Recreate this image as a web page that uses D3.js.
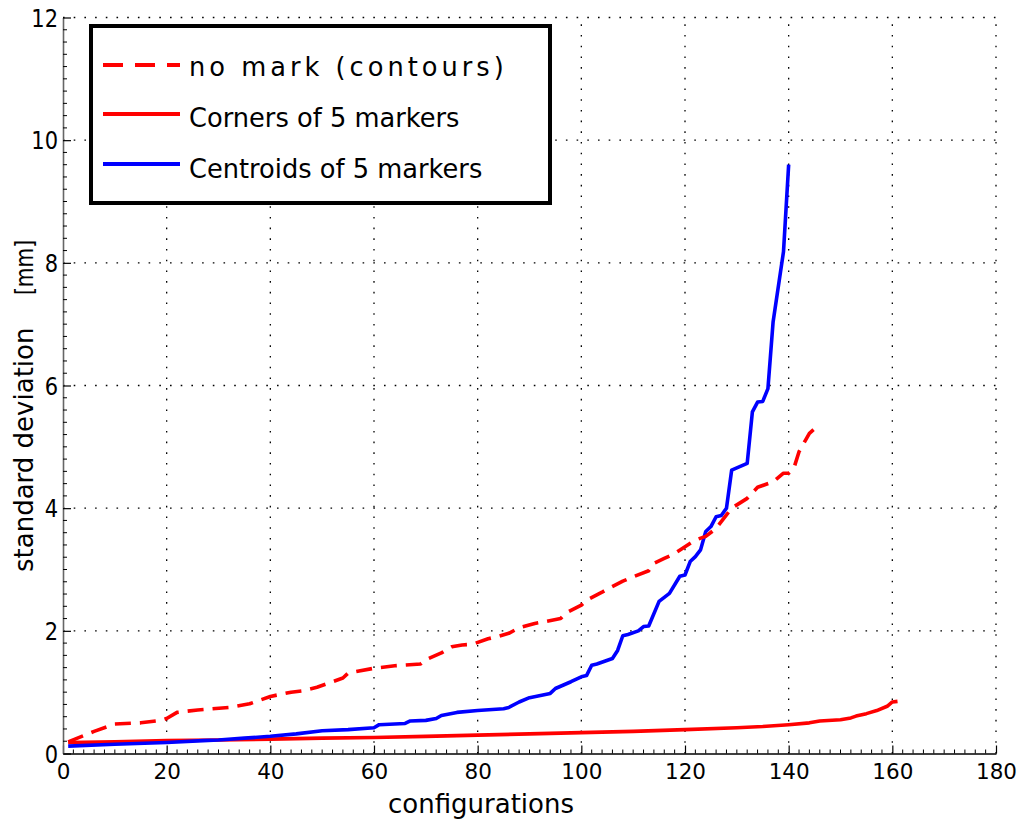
<!DOCTYPE html>
<html>
<head>
<meta charset="utf-8">
<script src="https://cdn.jsdelivr.net/npm/d3@7"></script>
<style>
  html, body { margin: 0; padding: 0; background: #fff; }
  svg { display: block; font-family: "DejaVu Sans", sans-serif; }
</style>
</head>
<body>
<svg id="chart" width="1019" height="825"></svg>
<script>
// Series: standard deviation [mm] per configuration
const contoursX = [1, 6, 10, 15, 19, 20, 22, 26, 32, 36, 40, 44, 46, 49, 54, 55, 60, 64, 69, 70,
  73, 75, 77, 79, 82, 84, 86, 88, 91, 93, 96, 97, 100, 101, 104, 105, 108, 110, 113, 114,
  116, 118, 120, 122, 124, 126, 128, 129, 132, 134, 137, 139, 140, 141, 142, 144, 146];
const contoursY = [0.19, 0.36, 0.48, 0.50, 0.54, 0.57, 0.67, 0.71, 0.75, 0.81, 0.93, 1.0, 1.02, 1.08, 1.23, 1.31, 1.39, 1.43, 1.46, 1.53,
  1.64, 1.74, 1.77, 1.78, 1.87, 1.91, 1.96, 2.05, 2.12, 2.15, 2.2, 2.29, 2.42, 2.5, 2.63, 2.68, 2.81, 2.88, 2.98, 3.1,
  3.18, 3.26, 3.37, 3.48, 3.54, 3.67, 3.89, 4.0, 4.16, 4.34, 4.43, 4.57, 4.57, 4.65, 4.92, 5.22, 5.37];

const cornersX = [1, 10, 20, 30, 40, 50, 60, 70, 80, 90, 100, 110, 120, 130, 135, 140, 144, 146, 150, 152, 153, 155, 157, 159, 160, 161];
const cornersY = [0.18, 0.19, 0.21, 0.22, 0.235, 0.25, 0.26, 0.28, 0.30, 0.32, 0.34, 0.36, 0.39, 0.42, 0.44, 0.47, 0.50, 0.53, 0.55, 0.58, 0.61, 0.65, 0.70, 0.77, 0.84, 0.85];

const centroidsX = [1, 10, 20, 27, 30, 35, 40, 45, 50, 55, 60, 61, 66, 67, 70, 72, 73, 76, 80, 85,
  86, 88, 90, 94, 95, 98, 100, 101, 102, 103, 106, 107, 108, 109, 111, 112, 113, 115, 117, 119,
  120, 121, 122, 123, 124, 125, 126, 127, 128, 129, 132, 133, 134, 135, 136, 137, 139, 140];
const centroidsY = [0.12, 0.15, 0.18, 0.21, 0.22, 0.25, 0.28, 0.32, 0.37, 0.39, 0.42, 0.47, 0.49, 0.53, 0.54, 0.57, 0.62, 0.67, 0.70, 0.73,
  0.75, 0.84, 0.91, 0.98, 1.06, 1.17, 1.25, 1.27, 1.44, 1.46, 1.55, 1.68, 1.92, 1.94, 2.0, 2.07, 2.08, 2.48, 2.61, 2.89,
  2.91, 3.13, 3.21, 3.32, 3.62, 3.70, 3.86, 3.88, 4.0, 4.62, 4.73, 5.57, 5.73, 5.74, 5.95, 7.04, 8.18, 9.6];

const xTicks = [0, 20, 40, 60, 80, 100, 120, 140, 160, 180];
const yTicks = [0, 2, 4, 6, 8, 10, 12];
const legendLabels = ["no mark (contours)", "Corners of 5 markers", "Centroids of 5 markers"];

const svg = d3.select("#chart");
const plot = { left: 63, right: 996, top: 17.5, bottom: 753.5 };

const x = d3.scaleLinear().domain([0, 180]).range([plot.left, plot.right]);
const y = d3.scaleLinear().domain([0, 12]).range([plot.bottom, plot.top]);

// Dotted grid at major ticks
const grid = svg.append("g").attr("stroke", "#000").attr("stroke-width", 1.3)
  .attr("stroke-dasharray", "1.6,9.1");
grid.selectAll(".gx").data(xTicks.filter(d => d > 0)).join("line")
  .attr("x1", d => x(d)).attr("x2", d => x(d))
  .attr("y1", plot.bottom).attr("y2", plot.top);
grid.selectAll(".gy").data(yTicks.filter(d => d > 0)).join("line")
  .attr("x1", plot.left).attr("x2", plot.right)
  .attr("y1", d => y(d)).attr("y2", d => y(d));

// Bottom axis: inward ticks, major and minor
const xAxis = d3.axisBottom(x).tickValues(xTicks).tickSizeInner(-8).tickSizeOuter(0).tickPadding(10);
const gx = svg.append("g").attr("transform", `translate(0,${plot.bottom})`).call(xAxis);
gx.select(".domain").attr("stroke", "#000").attr("stroke-width", 1.6);
gx.selectAll(".tick line").attr("stroke", "#000").attr("stroke-width", 1.2);
gx.selectAll(".tick text").attr("font-size", 21.5).attr("font-family", "DejaVu Sans").attr("fill", "#000");
const xMinor = d3.range(0, 181, 2).filter(v => v % 20 !== 0);
gx.selectAll(".minor").data(xMinor).join("line").attr("class", "minor")
  .attr("x1", d => x(d)).attr("x2", d => x(d)).attr("y1", 0).attr("y2", -4)
  .attr("stroke", "#000").attr("stroke-width", 1);

// Left axis: inward ticks, major and minor; labels drawn slightly tall
const yAxis = d3.axisLeft(y).tickValues(yTicks).tickSizeInner(-8).tickSizeOuter(0).tickPadding(12);
const gy = svg.append("g").attr("transform", `translate(${plot.left},0)`).call(yAxis);
gy.select(".domain").attr("stroke", "#666").attr("stroke-width", 1.6);
gy.selectAll(".tick line").attr("stroke", "#000").attr("stroke-width", 1.2);
gy.selectAll(".tick text").attr("font-size", 21).attr("font-family", "DejaVu Sans").attr("fill", "#000")
  .attr("dy", null).attr("y", 0).attr("x", -5)
  .attr("dominant-baseline", "central")
  .attr("transform", "scale(1,1.22)");
const yMinor = d3.range(0, 61, 1).filter(v => v % 10 !== 0).map(v => v / 5);
gy.selectAll(".minor").data(yMinor).join("line").attr("class", "minor")
  .attr("x1", 0).attr("x2", 4).attr("y1", d => y(d)).attr("y2", d => y(d))
  .attr("stroke", "#000").attr("stroke-width", 1);

// Data lines
const line = d3.line().x(d => x(d[0])).y(d => y(d[1]));
const contours = d3.zip(contoursX, contoursY);
const corners = d3.zip(cornersX, cornersY);
const centroids = d3.zip(centroidsX, centroidsY);

svg.append("path").datum(corners).attr("d", line)
  .attr("fill", "none").attr("stroke", "#ff0000").attr("stroke-width", 3.6).attr("stroke-linejoin", "round");
svg.append("path").datum(centroids).attr("d", line)
  .attr("fill", "none").attr("stroke", "#0000ff").attr("stroke-width", 3.6).attr("stroke-linejoin", "round");
svg.append("path").datum(contours).attr("d", line)
  .attr("fill", "none").attr("stroke", "#ff0000").attr("stroke-width", 3.6)
  .attr("stroke-dasharray", "16,9").attr("stroke-linejoin", "round");

// Axis titles
svg.append("text").attr("x", 481).attr("y", 813).attr("text-anchor", "middle")
  .attr("font-size", 26).attr("fill", "#000").text("configurations");
svg.append("text").attr("transform", "translate(33,572) rotate(-90)")
  .attr("text-anchor", "start").attr("font-size", 26).attr("fill", "#000").text("standard deviation");
svg.append("text").attr("transform", "translate(33,295) rotate(-90)")
  .attr("text-anchor", "start").attr("font-size", 25)
  .attr("textLength", 55).attr("lengthAdjust", "spacingAndGlyphs")
  .attr("fill", "#000").text("[mm]");

// Legend
const legend = svg.append("g");
legend.append("rect").attr("x", 91).attr("y", 26).attr("width", 459).attr("height", 177)
  .attr("fill", "#fff").attr("stroke", "#000").attr("stroke-width", 4);
const legendStyles = [
  { color: "#ff0000", dash: "20,12", spacing: 4, ly: 65, ty: 76 },
  { color: "#ff0000", dash: null, spacing: 0, ly: 114, ty: 127 },
  { color: "#0000ff", dash: null, spacing: 0, ly: 164, ty: 178 }
];
legendLabels.forEach((label, i) => {
  const s = legendStyles[i];
  legend.append("line").attr("x1", 103).attr("x2", 180).attr("y1", s.ly).attr("y2", s.ly)
    .attr("stroke", s.color).attr("stroke-width", 4)
    .attr("stroke-dasharray", s.dash);
  legend.append("text").attr("x", 189).attr("y", s.ty).attr("font-size", 25.7)
    .attr("letter-spacing", s.spacing).attr("fill", "#000").text(label);
});
</script>
</body>
</html>
